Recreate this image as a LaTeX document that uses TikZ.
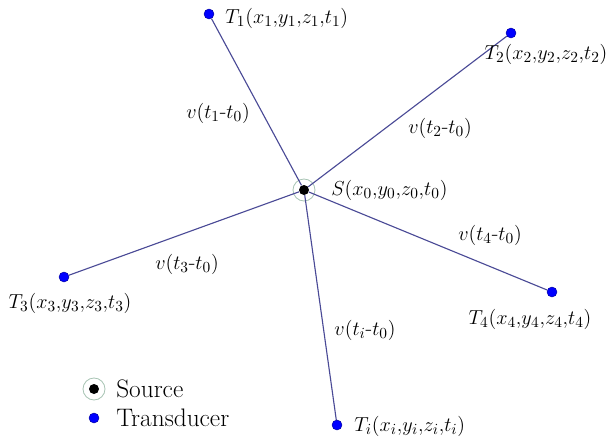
\documentclass[tikz,border=0pt]{standalone}
\begin{document}
\begin{tikzpicture}[x=0.025cm,y=-0.025cm,
  tdot/.style={circle,fill=blue,draw=blue!60!black,line width=0.3pt,minimum size=10*0.025cm,inner sep=0pt},
  sdot/.style={circle,fill=black,minimum size=10*0.025cm,inner sep=0pt},
  sring/.style={circle,draw=ringc,line width=0.6pt,minimum size=22*0.025cm,inner sep=0pt},
  link/.style={draw=linec,line width=0.8pt},
  lab/.style={inner sep=0pt,font=\fontsize{15.5}{18}\selectfont},
  leg/.style={inner sep=0pt,anchor=west,font=\rmfamily\fontsize{18}{20}\selectfont}]
\definecolor{linec}{HTML}{4A4A96}
\definecolor{ringc}{HTML}{A8C4B4}
\useasboundingbox (0,0) rectangle (613,443);
% source
\node[sring] (Sr) at (304,190) {};
\node[sdot] (S) at (304,190) {};
% transducers
\node[tdot] (T1) at (209,14) {};
\node[tdot] (T2) at (511,33) {};
\node[tdot] (T3) at (64,277) {};
\node[tdot] (T4) at (552,292) {};
\node[tdot] (Ti) at (337,425) {};
% links
\draw[link] (S) -- (T1);
\draw[link] (S) -- (T2);
\draw[link] (S) -- (T3);
\draw[link] (S) -- (T4);
\draw[link] (S) -- (Ti);
% labels
\node[lab,anchor=west] (L1) at (225,18) {$T_1(x_1{,}y_1{,}z_1{,}t_1)$};
\node[lab] (L2) at (546,54) {$T_2(x_2{,}y_2{,}z_2{,}t_2)$};
\node[lab,anchor=west] (LS) at (331,190) {$S(x_0{,}y_0{,}z_0{,}t_0)$};
\node[lab] (L3) at (70,303) {$T_3(x_3{,}y_3{,}z_3{,}t_3)$};
\node[lab] (L4) at (530,319) {$T_4(x_4{,}y_4{,}z_4{,}t_4)$};
\node[lab,anchor=west] (Li) at (354,426) {$T_i(x_i{,}y_i{,}z_i{,}t_i)$};
\node[lab] (V1) at (218,113) {$v(t_1$-$t_0)$};
\node[lab] (V2) at (440,128) {$v(t_2$-$t_0)$};
\node[lab] (V4) at (490,235) {$v(t_4$-$t_0)$};
\node[lab] (V3) at (187,264) {$v(t_3$-$t_0)$};
\node[lab] (Vi) at (365,330) {$v(t_i$-$t_0)$};
% legend
\node[sring] (LgR) at (94,389) {};
\node[sdot] (LgS) at (94,389) {};
\node[tdot] (LgT) at (94,418) {};
\node[leg] (LgSt) at (116,389) {Source};
\node[leg] (LgTt) at (116,418) {Transducer};
\end{tikzpicture}
\end{document}
